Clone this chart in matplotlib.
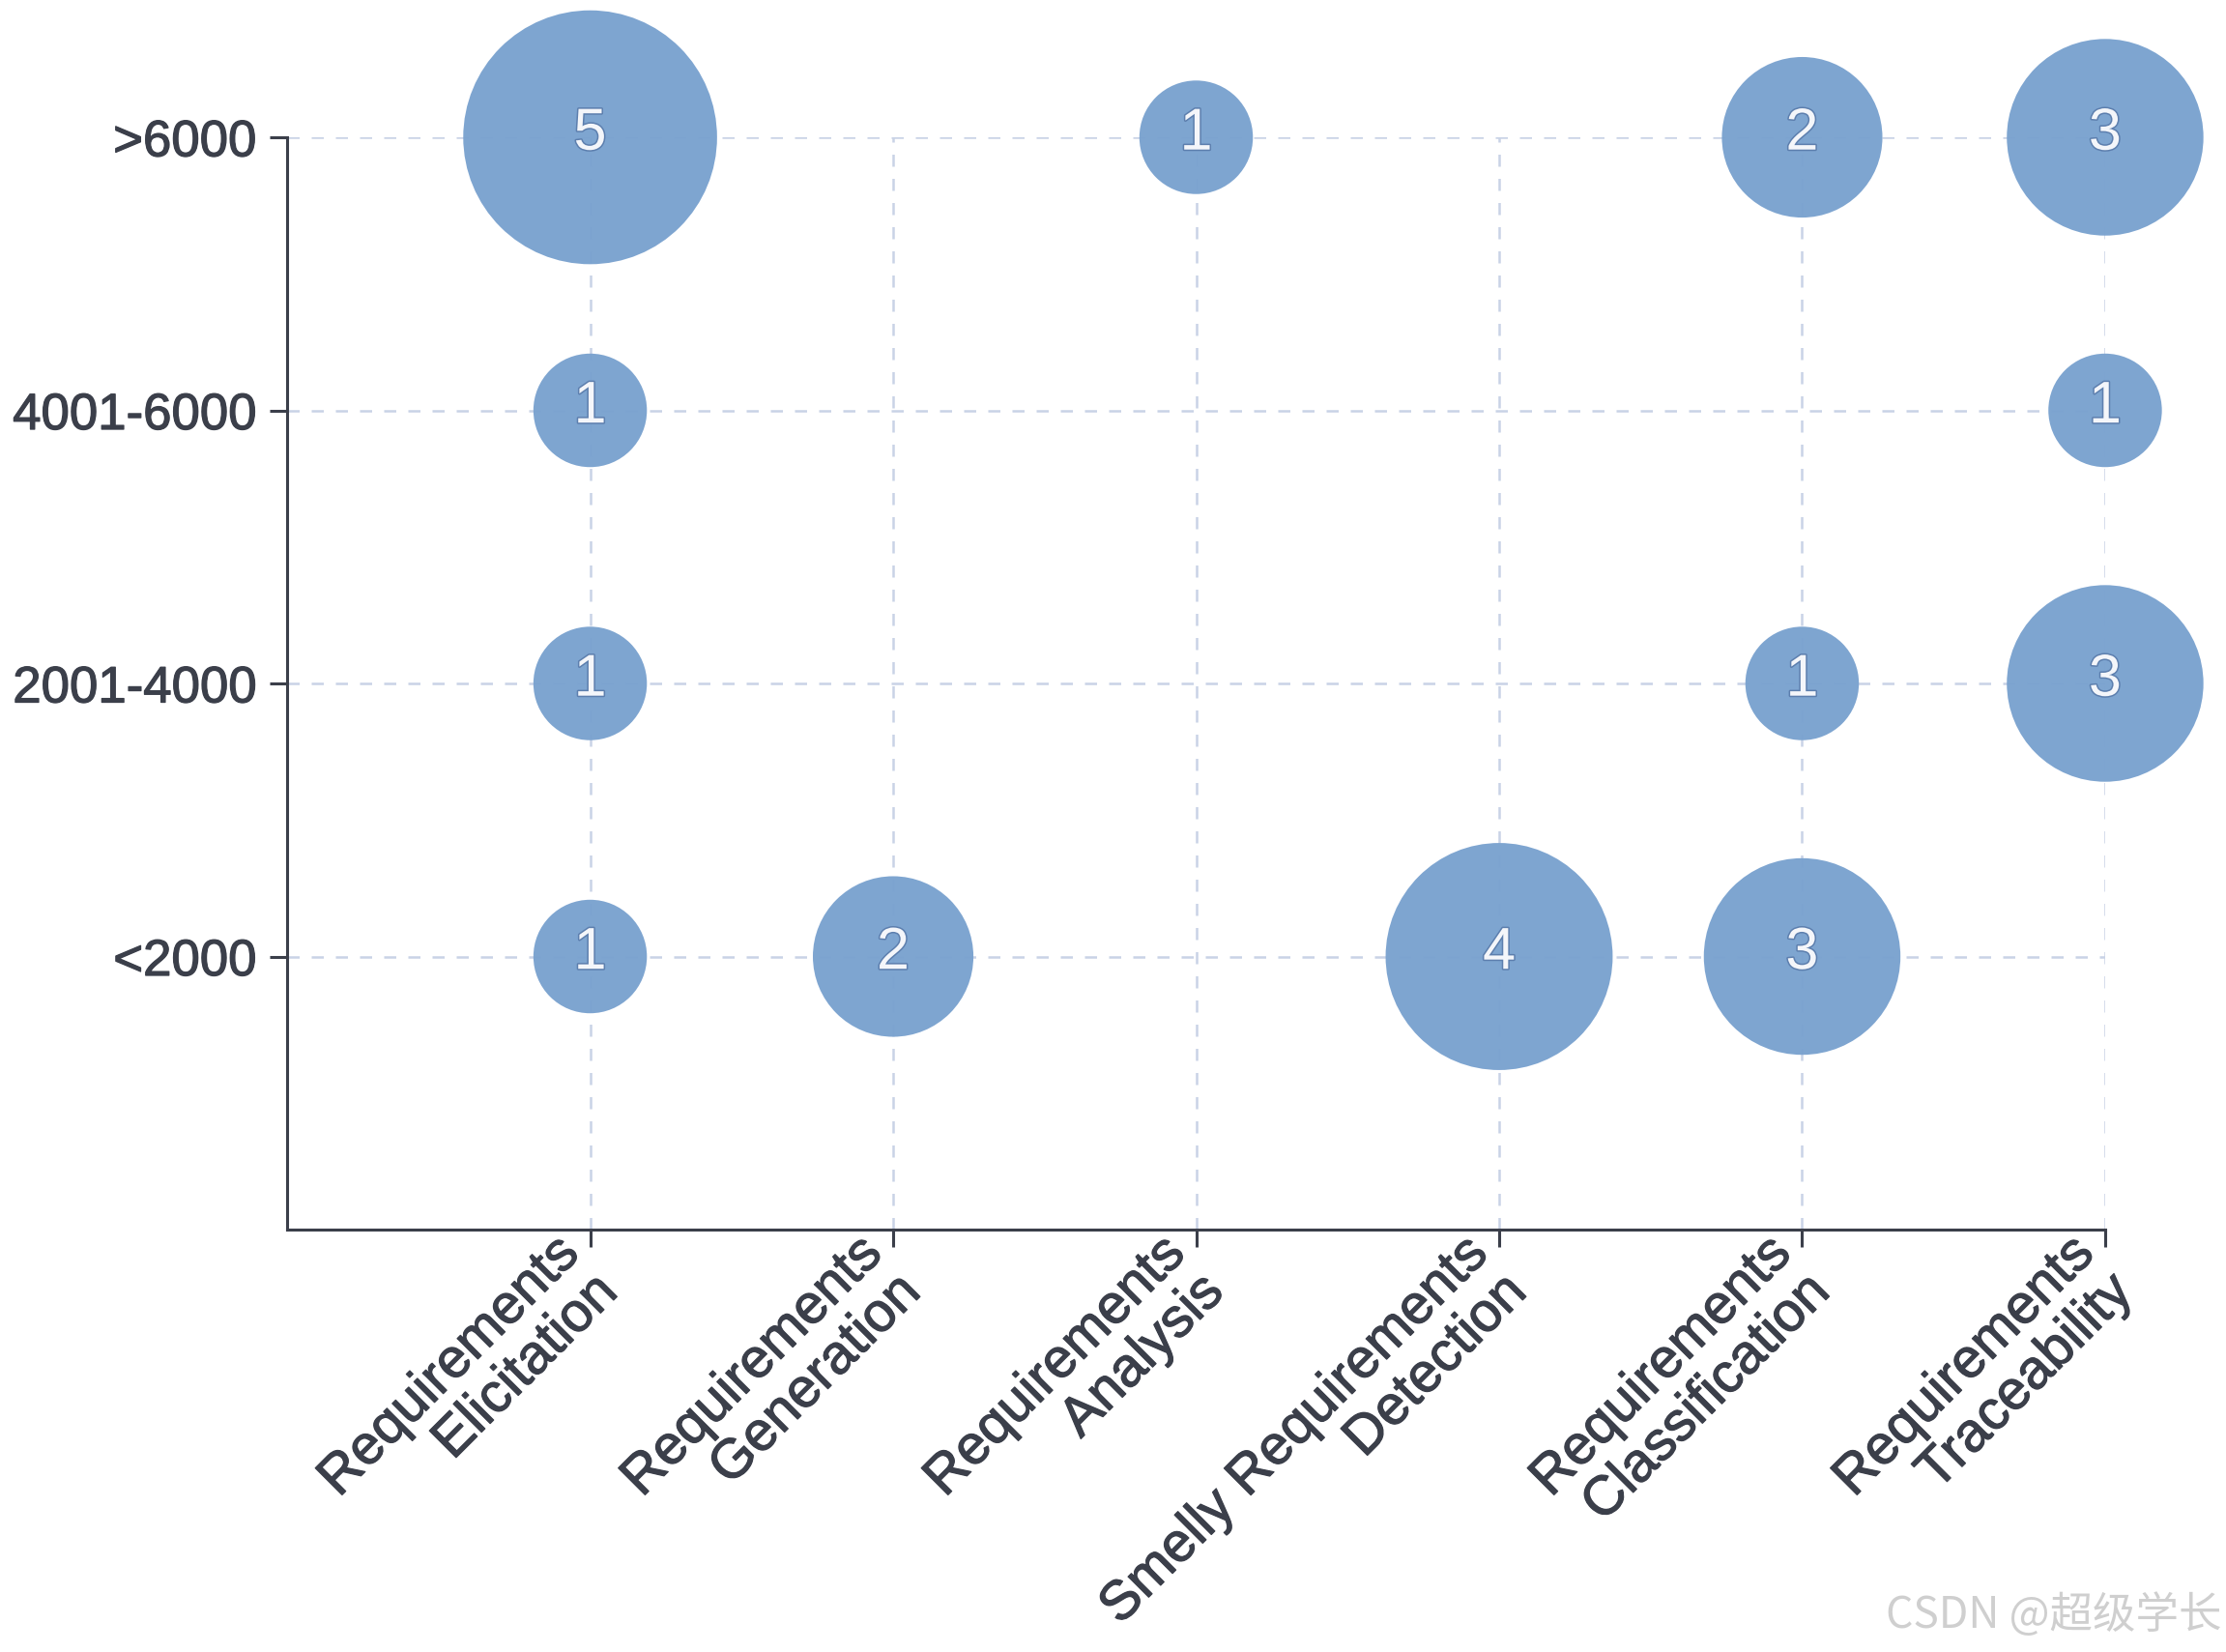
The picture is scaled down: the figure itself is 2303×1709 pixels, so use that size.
import matplotlib
matplotlib.use("Agg")
import matplotlib.pyplot as plt
import matplotlib.patheffects as pe
from matplotlib.transforms import ScaledTranslation, blended_transform_factory

categories = ["Requirements\nElicitation", "Requirements\nGeneration", "Requirements\nAnalysis",
              "Smelly Requirements\nDetection", "Requirements\nClassification", "Requirements\nTraceability"]
size_bins = ["<2000", "2001-4000", "4001-6000", ">6000"]

# (category index, size-bin index, count)
cat_idx = [0, 2, 4, 5, 0, 5, 0, 4, 5, 0, 1, 3, 4]
bin_idx = [3, 3, 3, 3, 2, 2, 1, 1, 1, 0, 0, 0, 0]
counts  = [5, 1, 2, 3, 1, 1, 1, 1, 3, 1, 2, 4, 3]

TEXT = "#3b3f4a"
BUBBLE = "#7aa2cf"
GRID = "#c9d3e6"

plt.rcParams['font.family'] = ['Liberation Sans', 'DejaVu Sans']

fig = plt.figure(figsize=(23.03, 17.09), dpi=100)
ax = fig.add_axes([0.129, 0.2557, 0.9457 - 0.129, 0.9169 - 0.2557])

unit = 7150
ax.scatter(cat_idx, bin_idx, s=[c * unit for c in counts], color=BUBBLE, alpha=0.97,
           edgecolors='none', zorder=3, clip_on=False)
for x, y, c in zip(cat_idx, bin_idx, counts):
    ax.text(x, y + 0.01, str(c), ha='center', va='center', fontsize=44, color='#f4f6fa', zorder=4,
            path_effects=[pe.withStroke(linewidth=2.2, foreground='#5d7fae')])

thick = [pe.withStroke(linewidth=0.9, foreground=TEXT)]

ax.set_xlim(-1, len(categories) - 1)
ax.set_ylim(-1, len(size_bins) - 1)
ax.set_xticks(range(len(categories)))
ax.set_xticklabels([""] * len(categories))
ax.set_yticks(range(len(size_bins)))
ax.set_yticklabels(size_bins, fontsize=38, color=TEXT)
for lab in ax.get_yticklabels():
    lab.set_path_effects(thick)

# rotated category labels, anchored below each tick; each line drawn separately
base = blended_transform_factory(ax.transData, ax.transAxes)
step = 28.6  # points per line along the perpendicular of the 45-degree text
for i, cat in enumerate(categories):
    for k, line in enumerate(cat.split("\n")):
        tr = base + ScaledTranslation((-28 + k * step) / 72, (2 - k * step) / 72,
                                      fig.dpi_scale_trans)
        ax.text(i, 0, line, transform=tr, fontsize=41, color=TEXT, rotation=45,
                ha='right', va='top', rotation_mode='anchor',
                path_effects=thick, clip_on=False)

for sp in ['top', 'right']:
    ax.spines[sp].set_visible(False)
for sp in ['left', 'bottom']:
    ax.spines[sp].set_color(TEXT)
    ax.spines[sp].set_linewidth(2.2)
ax.tick_params(axis='both', length=13, width=2.2, color=TEXT, pad=10)

ax.grid(True, linestyle=(0, (5, 5)), color=GRID, linewidth=1.8, zorder=0)
ax.set_axisbelow(True)

fig.text(0.998, 0.022, "CSDN @超级学长", ha='right', va='center', fontsize=32, color='#cfcfcf',
         family=['Noto Sans CJK SC', 'DejaVu Sans'])

fig.savefig("out.png", dpi=100)
